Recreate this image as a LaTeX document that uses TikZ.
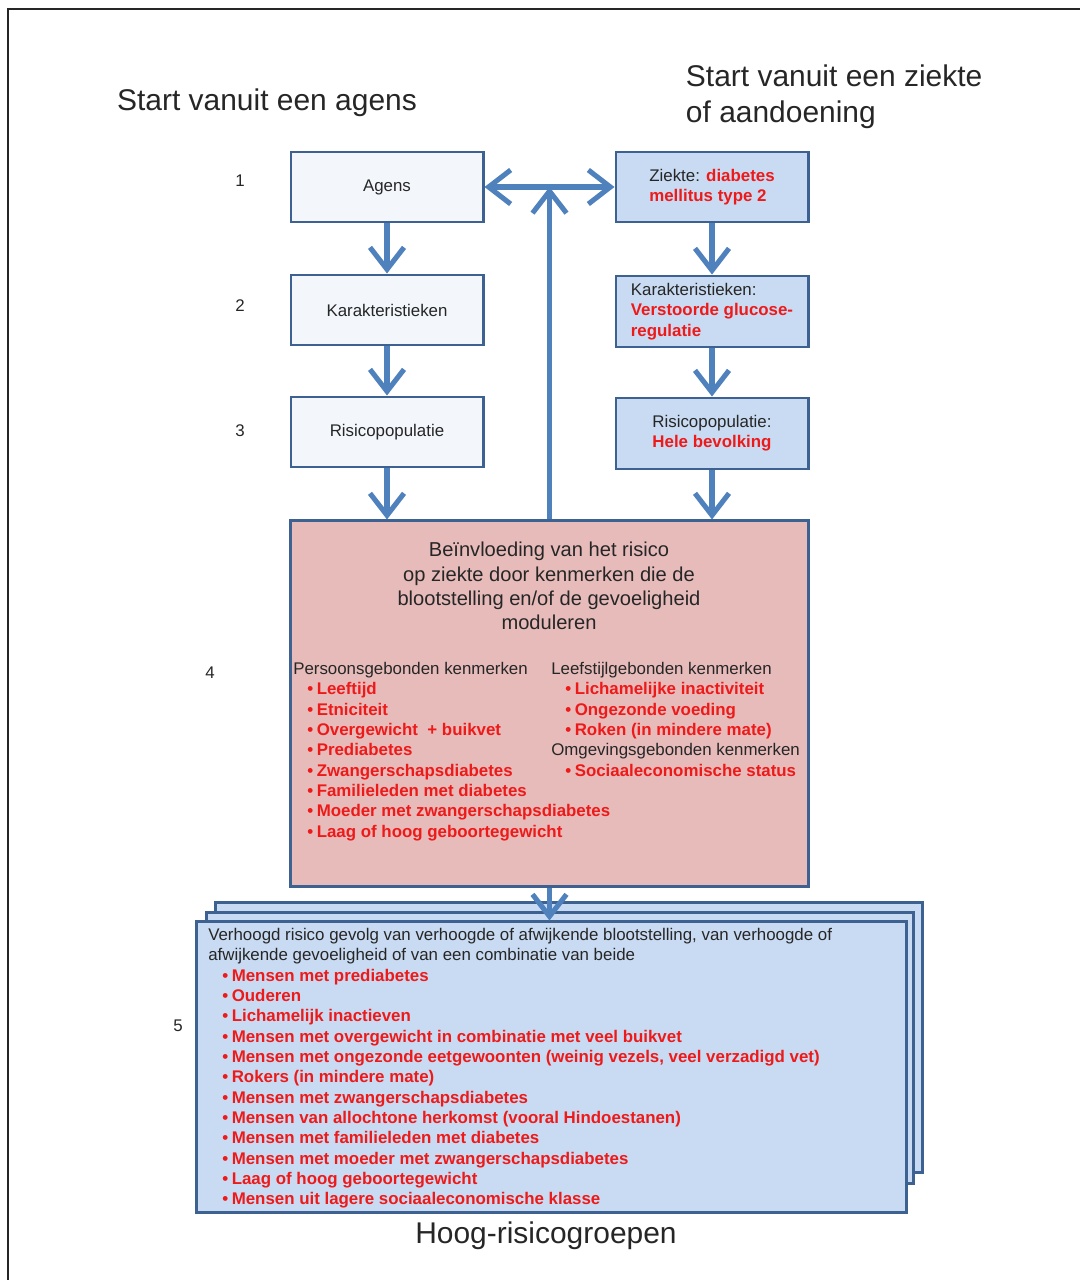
\documentclass[tikz,border=0pt]{standalone}
\usepackage{fontspec}
\setmainfont{Liberation Sans}
\usetikzlibrary{arrows.meta}

\definecolor{flowblue}{HTML}{4F81BD}
\definecolor{edgeblue}{HTML}{3D6291}
\definecolor{paleblue}{HTML}{F3F7FC}
\definecolor{lightblue}{HTML}{C9DBF2}
\definecolor{riskpink}{HTML}{E8BBBB}
\definecolor{riskred}{HTML}{EE1A1A}
\definecolor{inkgray}{HTML}{262626}

\newcommand{\hl}[1]{{\color{riskred}\bfseries #1}}
\newcommand{\itm}[1]{\hspace*{10pt}\hl{\textbullet\hspace{2.5pt}#1}}

\begin{document}
\begin{tikzpicture}[x=0.025cm, y=-0.025cm,
    font=\fontsize{12}{14.45}\selectfont, text=inkgray,
    stepbox/.style={draw=edgeblue, line width=2.1pt, minimum width=4.8cm,
      minimum height=1.75cm, inner sep=0pt, align=left},
    leftbox/.style={stepbox, fill=paleblue},
    rightbox/.style={stepbox, fill=lightblue},
    stackbox/.style={draw=edgeblue, line width=2.1pt, fill=lightblue,
      minimum width=17.65cm, minimum height=6.75cm, inner sep=0pt},
    flow/.style={draw=flowblue, line width=3.6pt,
      -{Straight Barb[length=5.5mm, width=8.5mm]}},
    flowboth/.style={flow, {Straight Barb[length=5.5mm, width=8.5mm]}-{Straight Barb[length=5.5mm, width=8.5mm]}},
    heading/.style={font=\fontsize{21.3}{25.6}\selectfont, align=left},
    column/.style={anchor=north west, align=left, inner sep=0pt}]

    \useasboundingbox (0,0) rectangle (1080,1280);

    % Frame
    \draw[inkgray, line width=1.5pt] (8,1280) -- (8,9) -- (1080,9);

    % Titles
    \node[heading] (titleL) at (267,103) {Start vanuit een agens};
    \node[heading, anchor=west] (titleR) at (681,97) {Start vanuit een ziekte\\of aandoening};

    % Step numbers
    \node (n1) at (240,181) {1};
    \node (n2) at (240,306) {2};
    \node (n3) at (240,431) {3};
    \node (n4) at (210,673) {4};
    \node (n5) at (178,1026) {5};

    % Left column: agens
    \node[leftbox] (agens) at (387,187) {Agens};
    \node[leftbox] (karL) at (387,310) {Karakteristieken};
    \node[leftbox] (risL) at (387,432) {Risicopopulatie};

    % Right column: ziekte
    \node[rightbox] (ziekte) at (712,187) {Ziekte: \hl{diabetes}\\\hl{mellitus type 2}};
    \node[rightbox, minimum height=1.775cm] (karR) at (712,311.5)
      {Karakteristieken:\\\hl{Verstoorde glucose-}\\\hl{regulatie}};
    \node[rightbox, minimum height=1.775cm] (risR) at (712,433.5)
      {Risicopopulatie:\\\hl{Hele bevolking}};

    % Modulating factors
    \node[draw=edgeblue, line width=2.1pt, fill=riskpink, minimum width=12.925cm,
      minimum height=9.125cm] (mod) at (549.5,703.5) {};
    \node[font=\fontsize{14.3}{17.3}\selectfont, align=center] (modtitle) at (549,586)
      {Beïnvloeding van het risico\\op ziekte door kenmerken die de\\blootstelling en/of de gevoeligheid\\moduleren};
    \node[column] (persoon) at (293,662) {Persoonsgebonden kenmerken\\
      \itm{Leeftijd}\\
      \itm{Etniciteit}\\
      \itm{Overgewicht \ + buikvet}\\
      \itm{Prediabetes}\\
      \itm{Zwangerschapsdiabetes}\\
      \itm{Familieleden met diabetes}\\
      \itm{Moeder met zwangerschapsdiabetes}\\
      \itm{Laag of hoog geboortegewicht}};
    \node[column] (leefstijl) at (551,662) {Leefstijlgebonden kenmerken\\
      \itm{Lichamelijke inactiviteit}\\
      \itm{Ongezonde voeding}\\
      \itm{Roken (in mindere mate)}\\
      Omgevingsgebonden kenmerken\\
      \itm{Sociaaleconomische status}};

    % High-risk groups (stacked)
    \node[stackbox, minimum height=6.725cm] (back) at (569,1037.5) {};
    \node[stackbox] (middle) at (560,1048) {};
    \node[stackbox, minimum width=17.725cm, minimum height=7.25cm] (front) at (551.5,1067) {};
    \node[column] (groepen) at (208,928) {Verhoogd risico gevolg van verhoogde of afwijkende blootstelling, van verhoogde of\\
      afwijkende gevoeligheid of van een combinatie van beide\\
      \itm{Mensen met prediabetes}\\
      \itm{Ouderen}\\
      \itm{Lichamelijk inactieven}\\
      \itm{Mensen met overgewicht in combinatie met veel buikvet}\\
      \itm{Mensen met ongezonde eetgewoonten (weinig vezels, veel verzadigd vet)}\\
      \itm{Rokers (in mindere mate)}\\
      \itm{Mensen met zwangerschapsdiabetes}\\
      \itm{Mensen van allochtone herkomst (vooral Hindoestanen)}\\
      \itm{Mensen met familieleden met diabetes}\\
      \itm{Mensen met moeder met zwangerschapsdiabetes}\\
      \itm{Laag of hoog geboortegewicht}\\
      \itm{Mensen uit lagere sociaaleconomische klasse}};
    \node[heading] (hoogrisico) at (546,1236) {Hoog-risicogroepen};

    % Arrows
    \draw[flow] (agens) -- (karL);
    \draw[flow] (karL) -- (risL);
    \draw[flow] (risL) -- (risL |- mod.north);
    \draw[flow] (ziekte) -- (karR);
    \draw[flow] (karR) -- (risR);
    \draw[flow] (risR) -- (risR |- mod.north);
    \draw[flowboth] (agens) -- (ziekte);
    \draw[flow] (mod.north) -- (mod.north |- agens.east);
    \draw[flow] (mod.south) -- (mod.south |- front.north);
\end{tikzpicture}
\end{document}
